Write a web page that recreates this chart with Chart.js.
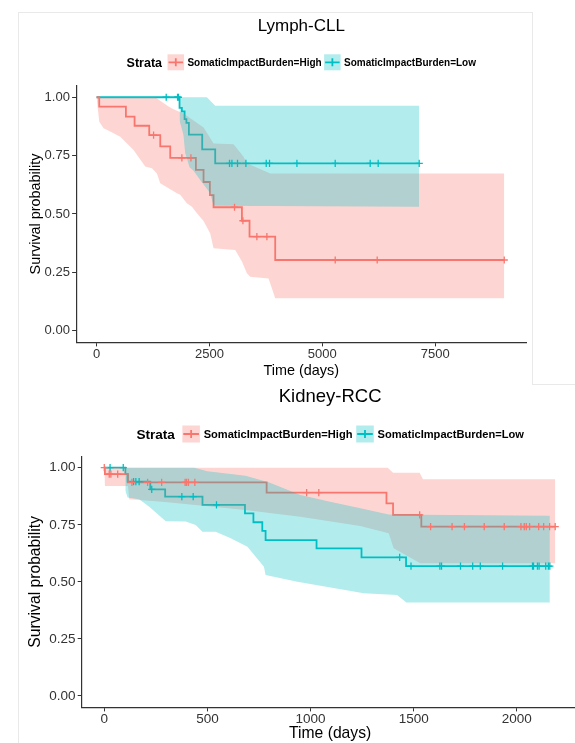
<!DOCTYPE html>
<html>
<head>
<meta charset="utf-8">
<script src="https://cdn.jsdelivr.net/npm/chart.js@4.4.1/dist/chart.umd.min.js"></script>
<style>
  html, body { margin: 0; padding: 0; background: #fff; overflow: hidden; }
  body { width: 575px; height: 743px; position: relative; }
  canvas { position: absolute; left: 0; }
  .edge { position: absolute; background: #e9e9e9; }
</style>
</head>
<body>
<div class="edge" style="left:18px;top:12px;width:1px;height:731px"></div>
<div class="edge" style="left:18px;top:12px;width:515px;height:1px"></div>
<div class="edge" style="left:532px;top:12px;width:1px;height:373px"></div>
<div class="edge" style="left:532px;top:384px;width:43px;height:1px"></div>
<canvas id="cll" width="575" height="390" style="top:0"></canvas>
<canvas id="rcc" width="600" height="358" style="top:385px"></canvas>
<script>
const strata = ['SomaticImpactBurden=High', 'SomaticImpactBurden=Low']
const survTicks = [0, 0.25, 0.5, 0.75, 1]

// Lymph-CLL
const cllXTicks = [0, 2500, 5000, 7500]
const cllHighTime = [0, 60, 650, 842, 1167, 1411, 1632, 2200, 2370, 2510, 2591, 3220, 3388, 3957, 9030]
const cllHighSurv = [1, 0.96, 0.917, 0.878, 0.838, 0.79, 0.74, 0.689, 0.637, 0.581, 0.529, 0.471, 0.403, 0.303, 0.303]
const cllHighCensor = [1263, 1890, 2090, 3056, 3242, 3551, 3773, 5286, 6216, 9030]
const cllHighUpperTime = [0, 1300, 1594, 1705, 1927, 2075, 2370, 2591, 3034, 3255, 3330, 3846, 9030]
const cllHighUpper = [1, 1, 0.96, 0.949, 0.93, 0.91, 0.87, 0.802, 0.799, 0.745, 0.717, 0.674, 0.674]
const cllHighLowerTime = [0, 60, 155, 303, 525, 819, 1078, 1227, 1337, 1410, 1780, 1853, 2000, 2112, 2224, 2370, 2518, 2591, 3071, 3220, 3330, 3403, 3809, 3883, 3957, 9030]
const cllHighLower = [1, 0.895, 0.867, 0.853, 0.831, 0.774, 0.703, 0.696, 0.674, 0.632, 0.589, 0.582, 0.546, 0.531, 0.503, 0.47, 0.417, 0.353, 0.346, 0.296, 0.246, 0.231, 0.224, 0.182, 0.139, 0.139]

const cllLowTime = [0, 1838, 1890, 1950, 1990, 2045, 2340, 2628, 7147]
const cllLowSurv = [1, 0.955, 0.94, 0.906, 0.89, 0.84, 0.777, 0.717, 0.717]
const cllLowCensor = [1543, 1794, 1812, 2945, 2998, 3122, 3308, 3758, 3831, 4438, 5286, 6061, 6238, 7147]
const cllLowUpperTime = [1838, 2444, 2628, 7147]
const cllLowUpper = [1, 1, 0.964, 0.964]
const cllLowLowerTime = [1838, 1924, 1964, 2060, 2148, 2296, 2518, 2590, 7147]
const cllLowLower = [0.9, 0.84, 0.76, 0.7, 0.685, 0.646, 0.589, 0.535, 0.531]

// Kidney-RCC
const rccXTicks = [0, 500, 1000, 1500, 2000]
const rccHighTime = [0, 3, 115, 787, 1368, 1400, 1537, 2186]
const rccHighSurv = [1, 0.972, 0.936, 0.891, 0.844, 0.793, 0.742, 0.742]
const rccHighCensor = [0, 24, 32, 65, 134, 210, 278, 392, 399, 408, 439, 981, 1040, 1529, 1582, 1686, 1746, 1842, 1939, 2020, 2036, 2046, 2062, 2106, 2130, 2159, 2186]
const rccHighUpperTime = [0, 1374, 1400, 1529, 1545, 2186]
const rccHighUpper = [1, 1, 0.978, 0.978, 0.95, 0.95]
const rccHighLowerTime = [0, 3, 115, 121, 282, 443, 685, 951, 1242, 1379, 1403, 1532, 2186]
const rccHighLower = [1, 0.92, 0.92, 0.862, 0.851, 0.837, 0.815, 0.785, 0.745, 0.713, 0.647, 0.581, 0.581]

const rccLowTime = [0, 102, 113, 223, 295, 476, 682, 723, 766, 782, 1029, 1247, 1463, 2160]
const rccLowSurv = [1, 0.972, 0.939, 0.905, 0.873, 0.837, 0.8, 0.761, 0.723, 0.683, 0.647, 0.607, 0.569, 0.569]
const rccLowCensor = [28, 92, 142, 153, 169, 230, 376, 431, 544, 1432, 1487, 1627, 1635, 1727, 1786, 1823, 1931, 2076, 2081, 2100, 2108, 2140, 2153, 2160]
const rccLowUpperTime = [102, 436, 500, 685, 800, 951, 1100, 1242, 1379, 2160]
const rccLowUpper = [1, 1, 0.985, 0.965, 0.935, 0.88, 0.85, 0.822, 0.795, 0.79]
const rccLowLowerTime = [102, 113, 169, 218, 298, 395, 443, 476, 540, 613, 694, 774, 782, 936, 1258, 1419, 1465, 2160]
const rccLowLower = [0.9, 0.87, 0.862, 0.829, 0.766, 0.764, 0.749, 0.72, 0.72, 0.691, 0.654, 0.566, 0.53, 0.5, 0.45, 0.442, 0.409, 0.409]

const FONT = "'Liberation Sans', Arial, sans-serif"
const RED = '#F8766D'
const TEAL = '#00BFC4'
const RED_FILL = 'rgba(248,118,109,0.3)'
const TEAL_FILL = 'rgba(0,191,196,0.3)'
const AXIS = '#333333'

const pts = (xs, ys) => xs.map((x, i) => ({ x, y: ys[i] }))

// survival value of a step curve at time t (for censor marks)
function survAt(times, surv, t) {
  let v = surv[0]
  times.forEach((x, i) => { if (x <= t) v = surv[i] })
  return v
}

// draw order as in survminer: curves, then ribbons (high, low), then censor marks
function stratumDatasets(s, color, fill, bandOrder) {
  return [
    { data: pts(s.time, s.surv), stepped: true, borderColor: color, borderWidth: 1.8, pointRadius: 0, order: 4 },
    {
      data: s.censor.map((t) => ({ x: t, y: survAt(s.time, s.surv, t) })),
      showLine: false, pointStyle: 'cross', pointRadius: 3.6,
      borderColor: color, pointBorderWidth: 1.3, order: 0
    },
    { data: pts(s.lowerTime, s.lower), fill: '+1', backgroundColor: fill, borderColor: 'transparent', borderWidth: 0, pointRadius: 0, order: bandOrder },
    { data: pts(s.upperTime, s.upper), fill: false, borderColor: 'transparent', borderWidth: 0, pointRadius: 0, order: bandOrder }
  ]
}

function strataLegend(st) {
  return {
    id: 'strataLegend',
    afterDraw(chart) {
      const { ctx, chartArea } = chart
      const y = chartArea.top - st.offset
      const items = [{ color: RED, fill: RED_FILL }, { color: TEAL, fill: TEAL_FILL }]
      ctx.save()
      ctx.textBaseline = 'middle'
      ctx.textAlign = 'left'
      ctx.font = `bold ${st.titleSize}px ${FONT}`
      const titleW = ctx.measureText('Strata').width
      ctx.font = `bold ${st.labelSize}px ${FONT}`
      const labelW = strata.map((l) => ctx.measureText(l).width)
      const total = titleW + st.gap + items.length * (st.box + st.keyGap) +
        labelW.reduce((a, b) => a + b, 0) + st.itemGap * (items.length - 1)
      let x = (chartArea.left + chartArea.right) / 2 - total / 2
      ctx.fillStyle = '#000'
      ctx.font = `bold ${st.titleSize}px ${FONT}`
      ctx.fillText('Strata', x, y + 1)
      x += titleW + st.gap
      items.forEach((it, i) => {
        ctx.strokeStyle = it.color
        ctx.lineWidth = 1.8
        ctx.beginPath()
        ctx.moveTo(x + 1, y)
        ctx.lineTo(x + st.box - 1, y)
        ctx.moveTo(x + st.box / 2, y - 4)
        ctx.lineTo(x + st.box / 2, y + 4)
        ctx.stroke()
        ctx.fillStyle = it.fill
        ctx.fillRect(x, y - st.boxH / 2, st.box, st.boxH)
        x += st.box + st.keyGap
        ctx.fillStyle = '#000'
        ctx.font = `bold ${st.labelSize}px ${FONT}`
        ctx.fillText(strata[i], x, y + 1)
        x += labelW[i] + st.itemGap
      })
      ctx.restore()
    }
  }
}

function kmChart(canvas, c) {
  return new Chart(canvas, {
    type: 'line',
    data: {
      datasets: [
        ...stratumDatasets(c.high, RED, RED_FILL, 2),
        ...stratumDatasets(c.low, TEAL, TEAL_FILL, 1)
      ]
    },
    plugins: [strataLegend(c.legend)],
    options: {
      responsive: false,
      animation: false,
      events: [],
      layout: { padding: { left: 0, right: c.padRight, top: 0, bottom: 0 } },
      plugins: {
        legend: { display: false },
        tooltip: { enabled: false },
        title: {
          display: true,
          text: c.title,
          fullSize: false,
          color: '#000',
          font: { family: FONT, size: c.titleSize, weight: 'normal' },
          padding: c.titlePad
        }
      },
      scales: {
        x: {
          type: 'linear',
          min: c.xMin,
          max: c.xMax,
          afterBuildTicks: (s) => { s.ticks = c.xTicks.map((v) => ({ value: v })) },
          afterFit: (s) => { s.height = c.xHeight },
          grid: { display: true, drawOnChartArea: false, drawTicks: true, tickLength: 4, color: AXIS },
          border: { display: true, color: AXIS, width: 1.2 },
          ticks: {
            color: '#333', padding: c.xTickPad, maxRotation: 0, autoSkip: false,
            font: { family: FONT, size: c.tickSize },
            callback: (v) => String(v)
          },
          title: {
            display: true, text: 'Time (days)', color: '#000',
            font: { family: FONT, size: c.axisTitleSize },
            padding: { top: 0, bottom: c.xTitlePad }
          }
        },
        y: {
          min: -0.05,
          max: 1.05,
          afterBuildTicks: (s) => { s.ticks = survTicks.map((v) => ({ value: v })) },
          afterFit: (s) => { s.width = c.yWidth },
          grid: { display: true, drawOnChartArea: false, drawTicks: true, tickLength: 4, color: AXIS },
          border: { display: true, color: AXIS, width: 1.2 },
          ticks: {
            color: '#333', padding: 2.2,
            font: { family: FONT, size: c.tickSize },
            callback: (v) => Number(v).toFixed(2)
          },
          title: {
            display: true, text: 'Survival probability', color: '#000',
            font: { family: FONT, size: c.axisTitleSize },
            padding: { top: c.yTitlePad, bottom: 0 }
          }
        }
      }
    }
  })
}

kmChart(document.getElementById('cll'), {
  title: 'Lymph-CLL',
  titleSize: 17,
  titlePad: { top: 15.8, bottom: 49.4 },
  padRight: 48.5,
  xMin: -453,
  xMax: 9523,
  xTicks: cllXTicks,
  xHeight: 47.6,
  yWidth: 76.1,
  tickSize: 13,
  xTickPad: 0.5,
  axisTitleSize: 14.4,
  xTitlePad: 10.7,
  yTitlePad: 26.9,
  legend: { offset: 23.3, titleSize: 12.5, labelSize: 10, box: 16.5, boxH: 16, gap: 5.5, keyGap: 3.4, itemGap: 2.5 },
  high: {
    time: cllHighTime, surv: cllHighSurv, censor: cllHighCensor,
    upperTime: cllHighUpperTime, upper: cllHighUpper, lowerTime: cllHighLowerTime, lower: cllHighLower
  },
  low: {
    time: cllLowTime, surv: cllLowSurv, censor: cllLowCensor,
    upperTime: cllLowUpperTime, upper: cllLowUpper, lowerTime: cllLowLowerTime, lower: cllLowLower
  }
})

kmChart(document.getElementById('rcc'), {
  title: 'Kidney-RCC',
  titleSize: 18.5,
  titlePad: { top: 0.9, bottom: 48.2 },
  padRight: 21.4,
  xMin: -109.5,
  xMax: 2299.5,
  xTicks: rccXTicks,
  xHeight: 35.6,
  yWidth: 81.7,
  tickSize: 13.5,
  xTickPad: 0,
  axisTitleSize: 15.7,
  xTitlePad: 0,
  yTitlePad: 26.6,
  legend: { offset: 22.3, titleSize: 13.6, labelSize: 11.1, box: 17.6, boxH: 17, gap: 7.4, keyGap: 3.7, itemGap: 3.7 },
  high: {
    time: rccHighTime, surv: rccHighSurv, censor: rccHighCensor,
    upperTime: rccHighUpperTime, upper: rccHighUpper, lowerTime: rccHighLowerTime, lower: rccHighLower
  },
  low: {
    time: rccLowTime, surv: rccLowSurv, censor: rccLowCensor,
    upperTime: rccLowUpperTime, upper: rccLowUpper, lowerTime: rccLowLowerTime, lower: rccLowLower
  }
})
</script>
</body>
</html>
